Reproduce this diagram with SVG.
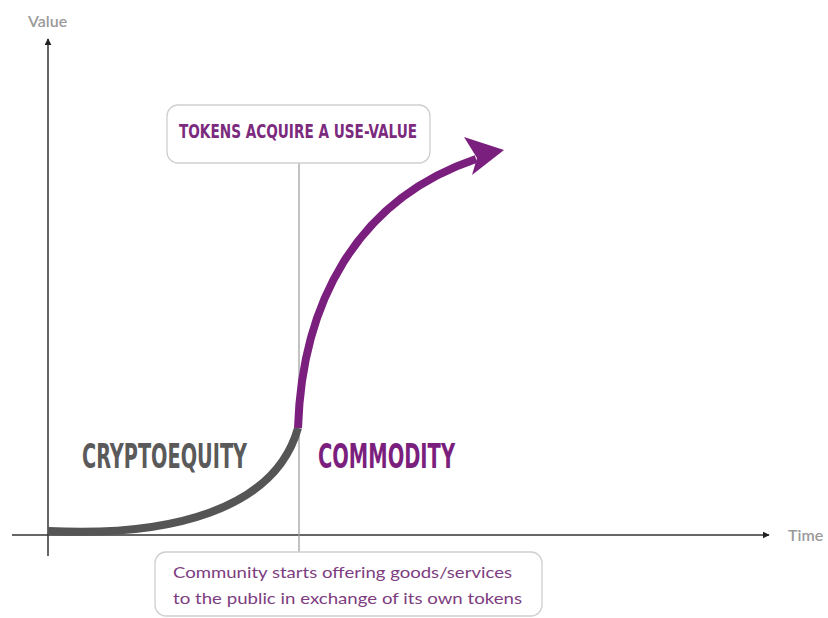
<svg xmlns="http://www.w3.org/2000/svg" width="828" height="618" viewBox="0 0 828 618">
<style>
.axis{stroke:#333;stroke-width:1.5;fill:none}
.lbl{font-family:"Lato","Open Sans",sans-serif;font-size:16px;fill:#9a9a9a;font-weight:600}
.box{fill:#fff;stroke:#cfcfcf;stroke-width:1.3}
.cond{font-family:"DejaVu Sans Condensed","DejaVu Sans",sans-serif;font-weight:bold}
.body{font-family:"Lato","Open Sans",sans-serif;font-size:16px;fill:#7d3d80}
</style>
<defs>
<marker id="ah" viewBox="0 0 10 10" refX="9" refY="5" markerWidth="7" markerHeight="7" orient="auto" markerUnits="userSpaceOnUse">
<path d="M0,0 L10,5 L0,10 z" fill="#222"/>
</marker>
</defs>
<rect width="828" height="618" fill="#fff"/>
<g id="axes">
<line class="axis" x1="48" y1="556" x2="48" y2="39" marker-end="url(#ah)"/>
<line class="axis" x1="12" y1="535" x2="769" y2="535" marker-end="url(#ah)"/>
<text class="lbl" x="28" y="27">Value</text>
<text class="lbl" x="788" y="541">Time</text>
</g>
<g id="connectors">
<line x1="299" y1="163" x2="299" y2="552" stroke="#999" stroke-width="1.2"/>
<path d="M48,531 C170,537 275,510 298,428" fill="none" stroke="#555" stroke-width="8"/>
<path d="M298,428 C302,305 355,200 476,159" fill="none" stroke="#7b1f7e" stroke-width="8"/>
<path d="M504,150 L464,137 L477,158 L472,175 z" fill="#7b1f7e"/>
</g>
<g id="top-box">
<rect class="box" x="167" y="105" width="263" height="58" rx="11"/>
<text class="cond" x="179" y="138" font-size="20" fill="#7b2a7e" textLength="238" lengthAdjust="spacingAndGlyphs">TOKENS ACQUIRE A USE-VALUE</text>
</g>
<g id="cryptoequity">
<text class="cond" x="82" y="468" font-size="33" fill="#5a5a5a" textLength="165" lengthAdjust="spacingAndGlyphs">CRYPTOEQUITY</text>
</g>
<g id="commodity">
<text class="cond" x="318" y="468" font-size="33" fill="#7b1f7e" textLength="137" lengthAdjust="spacingAndGlyphs">COMMODITY</text>
</g>
<g id="bottom-box">
<rect class="box" x="155" y="552" width="387" height="64" rx="11"/>
<text class="body" x="173" y="578" textLength="339" lengthAdjust="spacingAndGlyphs">Community starts offering goods/services</text>
<text class="body" x="173" y="604" textLength="349" lengthAdjust="spacingAndGlyphs">to the public in exchange of its own tokens</text>
</g>
</svg>
